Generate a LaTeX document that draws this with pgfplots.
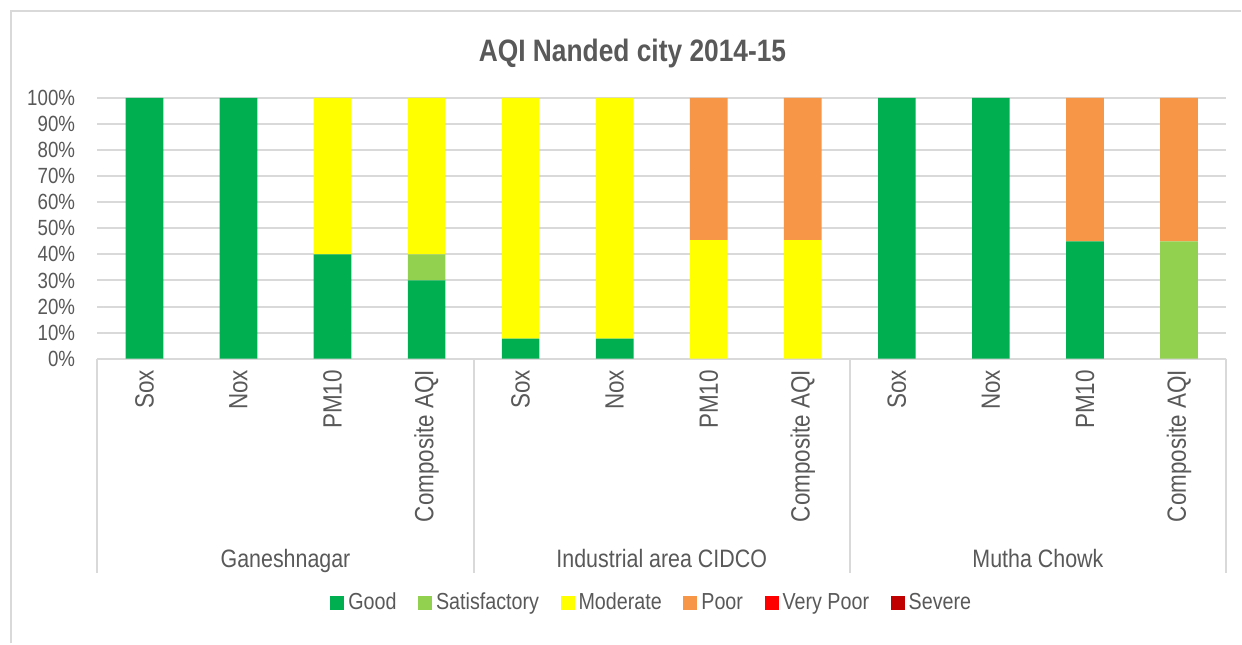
\documentclass[border=0pt]{standalone}
\usepackage{pgfplots}
\pgfplotsset{compat=1.18}
\usepackage{fontspec}
\setmainfont{Liberation Sans}[FakeStretch=0.85]
\definecolor{txt}{HTML}{595959}
\definecolor{gridc}{HTML}{D9D9D9}
\definecolor{cGood}{HTML}{00B050}
\definecolor{cSat}{HTML}{92D050}
\definecolor{cMod}{HTML}{FFFF00}
\definecolor{cPoor}{HTML}{F79646}
\definecolor{cVP}{HTML}{FF0000}
\definecolor{cSev}{HTML}{C00000}
\begin{document}
\begin{tikzpicture}[x=0.5pt,y=0.5pt]
\path[fill=white] (0,0) rectangle (1242,644);
\draw[gridc, line width=1pt] (11,0) -- (11,633) -- (1242,633);
\node[anchor=base, text=txt, font=\fontsize{15.5}{18}\selectfont\bfseries] at (633,582) {AQI Nanded city 2014-15};
\begin{axis}[
  at={(48.75pt,142.5pt)}, anchor=south west,
  scale only axis, width=564.75pt, height=130.5pt,
  ybar stacked, bar width=0.4,
  xmin=-0.5, xmax=11.5, ymin=0, ymax=100,
  xtick={0,...,11},
  xticklabels={Sox,Nox,PM10,Composite AQI,Sox,Nox,PM10,Composite AQI,Sox,Nox,PM10,Composite AQI},
  ytick={0,10,...,100},
  yticklabel={\pgfmathprintnumber{\tick}\%},
  /pgf/number format/assume math mode=true,
  major tick length=0pt,
  axis line style={draw=none},
  ymajorgrids, grid style={gridc, line width=1pt},
  xticklabel style={rotate=90, anchor=east, inner sep=0pt, xshift=-5.5pt, text=txt, font=\fontsize{13.2}{15}\selectfont},
  yticklabel style={anchor=east, inner sep=0pt, xshift=-11pt, text=txt, font=\fontsize{11}{13}\selectfont},
  legend columns=6,
  legend style={at={(0.492,-0.935)}, anchor=center, draw=none, fill=none,
    font=\fontsize{11.6}{14}\selectfont, text=txt,
    /tikz/every even column/.append style={column sep=8.8pt},
    inner sep=0pt},
  legend image code/.code={\path[#1,draw=none] (-1.5pt,-3.5pt) rectangle (5.5pt,3.5pt);},
]
\addplot[fill=cGood, draw=none] coordinates {(0,100)(1,100)(2,40)(3,30)(4,7.7)(5,7.7)(6,0)(7,0)(8,100)(9,100)(10,45)(11,0)};
\addplot[fill=cSat, draw=none] coordinates {(0,0)(1,0)(2,0)(3,10)(4,0)(5,0)(6,0)(7,0)(8,0)(9,0)(10,0)(11,45)};
\addplot[fill=cMod, draw=none] coordinates {(0,0)(1,0)(2,60)(3,60)(4,92.3)(5,92.3)(6,45.5)(7,45.5)(8,0)(9,0)(10,0)(11,0)};
\addplot[fill=cPoor, draw=none] coordinates {(0,0)(1,0)(2,0)(3,0)(4,0)(5,0)(6,54.5)(7,54.5)(8,0)(9,0)(10,55)(11,55)};
\addplot[fill=cVP, draw=none] coordinates {(0,0)(1,0)(2,0)(3,0)(4,0)(5,0)(6,0)(7,0)(8,0)(9,0)(10,0)(11,0)};
\addplot[fill=cSev, draw=none] coordinates {(0,0)(1,0)(2,0)(3,0)(4,0)(5,0)(6,0)(7,0)(8,0)(9,0)(10,0)(11,0)};
\legend{Good,Satisfactory,Moderate,Poor,Very Poor,Severe}
\end{axis}
\foreach \xx in {97.5,474,850.5,1227} {\draw[gridc, line width=1pt] (\xx,285) -- (\xx,71);}
\node[anchor=base, text=txt, font=\fontsize{12.6}{15}\selectfont] at (285.75,76) {Ganeshnagar};
\node[anchor=base, text=txt, font=\fontsize{12.6}{15}\selectfont] at (662.25,76) {Industrial area CIDCO};
\node[anchor=base, text=txt, font=\fontsize{12.6}{15}\selectfont] at (1038.75,76) {Mutha Chowk};
\end{tikzpicture}
\end{document}
